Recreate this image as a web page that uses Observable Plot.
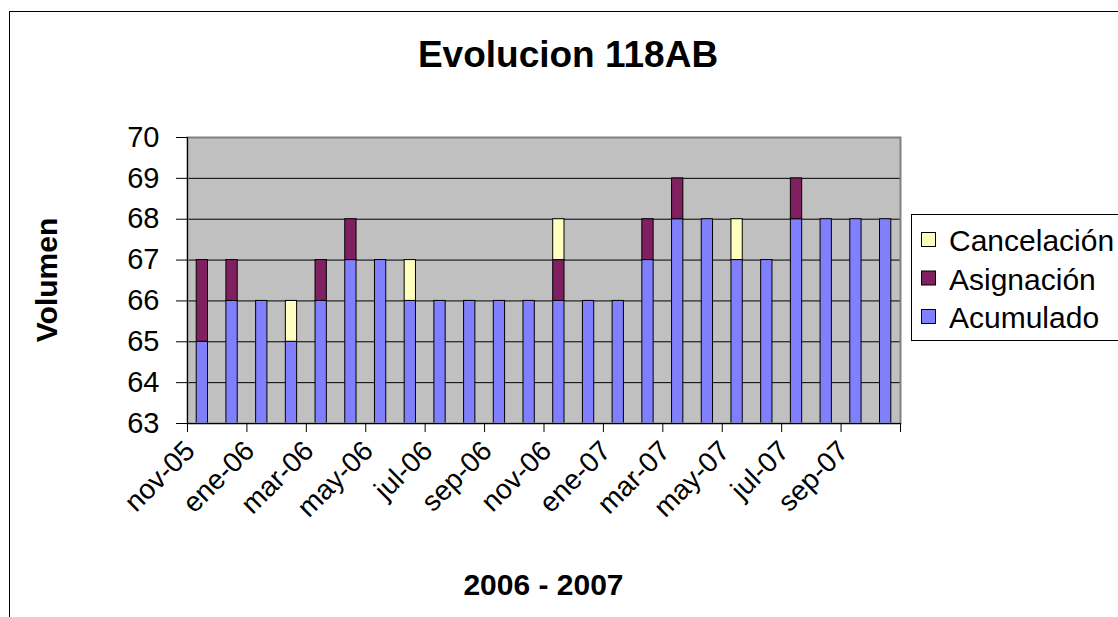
<!DOCTYPE html>
<html><head><meta charset="utf-8">
<script src="https://cdn.jsdelivr.net/npm/d3@7"></script>
<script src="https://cdn.jsdelivr.net/npm/@observablehq/plot@0.6"></script>
<style>
html,body{margin:0;padding:0;background:#fff;overflow:hidden}
#chart{position:relative;width:1118px;height:617px}
</style></head><body><div id="chart"></div>
<script>
const months = ["nov-05","dic-05","ene-06","feb-06","mar-06","abr-06","may-06","jun-06","jul-06","ago-06","sep-06","oct-06","nov-06","dic-06","ene-07","feb-07","mar-07","abr-07","may-07","jun-07","jul-07","ago-07","sep-07","oct-07"];
const acumulado   = [65,66,66,65,66,67,67,66,66,66,66,66,66,66,66,67,68,68,67,67,68,68,68,68];
const asignacion  = [2,1,0,0,1,1,0,0,0,0,0,0,1,0,0,1,1,0,0,0,1,0,0,0];
const cancelacion = [0,0,0,1,0,0,0,1,0,0,0,0,1,0,0,0,0,0,1,0,0,0,0,0];
const series = ["Acumulado","Asignación","Cancelación"];
const colors = ["#8080FF","#802060","#FFFFC0"];
const tickLabels = ["nov-05","ene-06","mar-06","may-06","jul-06","sep-06","nov-06","ene-07","mar-07","may-07","jul-07","sep-07"];
const yTicks = [63,64,65,66,67,68,69,70];
const title = "Evolucion 118AB";
const xTitle = "2006 - 2007";
const yTitle = "Volumen";

const values = [acumulado, asignacion, cancelacion];
const table = [];
months.forEach((m, i) => series.forEach((s, k) => {
  if (values[k][i] > 0) table.push({month: m, series: s, value: values[k][i]});
}));

const W = 1118, H = 617;
const mL = 187, mR = 218, mT = 137, mB = 194;
const step = (W - mL - mR) / months.length;
const FONT = "'Liberation Sans', Arial, sans-serif";

const plot = Plot.plot({
  width: W, height: H,
  marginLeft: mL, marginRight: mR, marginTop: mT, marginBottom: mB,
  style: {fontFamily: FONT, fontSize: "29px", color: "black", background: "white"},
  x: {type: "band", domain: months, paddingInner: 0.62, paddingOuter: 0.31, round: false, axis: null},
  y: {domain: [63, 70], axis: null},
  color: {domain: series, range: colors},
  marks: [
    Plot.frame({fill: "#C0C0C0"}),
    Plot.gridY(yTicks, {stroke: "black", strokeOpacity: 1, strokeWidth: 1}),
    Plot.barY(table, {x: "month", y: "value", fill: "series", order: series, stroke: "black", strokeWidth: 1, clip: true}),
    Plot.frame({stroke: "#808080", strokeWidth: 2}),
    Plot.frame({anchor: "left", stroke: "black", strokeWidth: 1}),
    Plot.frame({anchor: "bottom", stroke: "black", strokeWidth: 1}),
    Plot.axisY(yTicks, {tickSize: 11, tickPadding: 17, fontSize: 29, label: null, stroke: "black"}),
    Plot.axisX(tickLabels, {tickSize: 9, tickFormat: () => "", dx: -step / 2, label: null, stroke: "black"}),
    Plot.axisX([months[months.length - 1]], {tickSize: 9, tickFormat: () => "", dx: step / 2, label: null, stroke: "black"}),
    Plot.text(tickLabels, {x: d => d, frameAnchor: "bottom", rotate: -45, textAnchor: "end", dx: -step / 2 + 9, dy: 29, fontSize: 28, fill: "black"})
  ]
});

document.getElementById("chart").appendChild(plot);
const svg = d3.select(plot);

// outer chart border
svg.append("rect").attr("x", 9.5).attr("y", 11.5).attr("width", W + 20).attr("height", H + 20)
  .attr("fill", "none").attr("stroke", "black").attr("stroke-width", 1);

// titles
svg.append("text").attr("x", 568).attr("y", 67).attr("text-anchor", "middle")
  .style("font-family", FONT).style("font-size", "37px").style("font-weight", "bold").text(title);
svg.append("text").attr("x", mL + (W - mL - mR) / 2).attr("y", 595).attr("text-anchor", "middle")
  .style("font-family", FONT).style("font-size", "30px").style("font-weight", "bold").text(xTitle);
svg.append("text").attr("transform", `translate(57,${mT + (H - mT - mB) / 2}) rotate(-90)`).attr("text-anchor", "middle")
  .style("font-family", FONT).style("font-size", "30px").style("font-weight", "bold").text(yTitle);

// legend
const color = plot.scale("color");
const lg = svg.append("g");
lg.append("rect").attr("x", 911.5).attr("y", 214.5).attr("width", 300).attr("height", 126)
  .attr("fill", "white").attr("stroke", "black").attr("stroke-width", 1);
series.slice().reverse().forEach((s, i) => {
  const cy = 240 + i * 38.5;
  lg.append("rect").attr("x", 921.5).attr("y", cy - 7.5).attr("width", 14).attr("height", 14)
    .attr("fill", color.apply(s)).attr("stroke", "black").attr("stroke-width", 1);
  lg.append("text").attr("x", 949).attr("y", cy + 11).attr("text-anchor", "start")
    .style("font-family", FONT).style("font-size", "30px").text(s);
});
</script></body></html>
